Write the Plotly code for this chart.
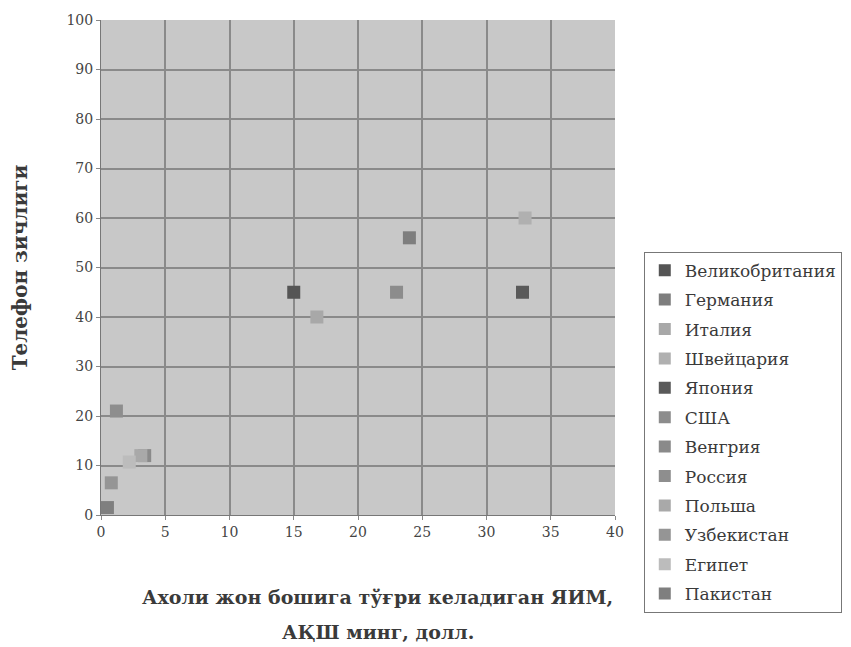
import plotly.graph_objects as go

countries = ["Великобритания", "Германия", "Италия", "Швейцария", "Япония", "США",
             "Венгрия", "Россия", "Польша", "Узбекистан", "Египет", "Пакистан"]
gdp = [15.0, 24.0, 16.8, 33.0, 32.8, 23.0, 3.4, 1.2, 3.1, 0.8, 2.2, 0.5]
phones = [45, 56, 40, 60, 45, 45, 12, 21, 12, 6.5, 10.7, 1.5]
colors = ["#555555", "#7e7e7e", "#a8a8a8", "#b0b0b0", "#5a5a5a", "#8c8c8c",
          "#8a8a8a", "#8e8e8e", "#a9a9a9", "#959595", "#bcbcbc", "#7f7f7f"]

x_ticks = [0, 5, 10, 15, 20, 25, 30, 35, 40]
y_ticks = [0, 10, 20, 30, 40, 50, 60, 70, 80, 90, 100]
x_title_lines = ["Ахоли жон бошига тўғри келадиган ЯИМ,", "АҚШ минг, долл."]
y_title = "Телефон зичлиги"

fig = go.Figure()
for c, xv, yv, col in zip(countries, gdp, phones, colors):
    fig.add_trace(go.Scatter(
        x=[xv], y=[yv], mode="markers", name=c, legendgroup=c,
        marker=dict(symbol="square", size=13, color=col, line=dict(width=0)),
    ))

font_family = "DejaVu Serif"
title_font = dict(size=19, color="#3a3a3a", family=font_family)
for txt, yp in zip(x_title_lines, [-0.166, -0.236]):
    fig.add_annotation(text="<b>" + txt + "</b>", xref="paper", yref="paper",
                       x=0.538, y=yp, xanchor="center", yanchor="middle",
                       showarrow=False, font=title_font)

fig.update_layout(
    width=851, height=647,
    paper_bgcolor="#ffffff",
    plot_bgcolor="#c8c8c8",
    margin=dict(l=93, r=244, t=12, b=140, autoexpand=False),
    font=dict(family=font_family, color="#333333", size=15),
    showlegend=True,
    legend=dict(
        x=1.056, xanchor="left", y=0.532, yanchor="top",
        bgcolor="#ffffff", bordercolor="#777777", borderwidth=1,
        font=dict(family=font_family, size=17, color="#3a3a3a"),
        itemsizing="constant", itemwidth=30, tracegroupgap=4.3,
    ),
    xaxis=dict(
        range=[0, 40], tickvals=x_ticks, ticktext=[str(v) for v in x_ticks],
        showgrid=True, gridcolor="#8a8a8a", gridwidth=1.5,
        zeroline=False, showline=True, linecolor="#777777", linewidth=1,
        ticks="outside", ticklen=4, tickcolor="#888888",
        tickfont=dict(size=14, color="#444444", family=font_family),
    ),
    yaxis=dict(
        range=[0, 100], tickvals=y_ticks, ticktext=[str(v) for v in y_ticks],
        showgrid=True, gridcolor="#8a8a8a", gridwidth=1.5,
        zeroline=False, showline=True, linecolor="#777777", linewidth=1,
        ticks="outside", ticklen=4, tickcolor="#888888",
        tickfont=dict(size=14, color="#444444", family=font_family),
        title=dict(text="<b>" + y_title + "</b>",
                   font=dict(size=20, color="#3a3a3a", family=font_family), standoff=34),
    ),
)

fig.write_html("out.html")
